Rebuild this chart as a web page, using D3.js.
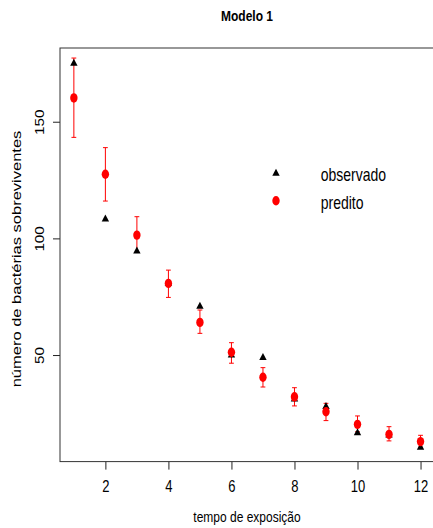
<!doctype html>
<html lang="pt">
  <head>
    <meta charset="utf-8">
    <title>Modelo 1</title>
    <style>
      body { margin: 0; background: #fff; }
      text { font-family: "Liberation Sans", Arial, sans-serif; fill: #000; }
    </style>
  </head>
  <body>
    <div id="chart"></div>

    <script src="https://cdn.jsdelivr.net/npm/d3@7"></script>
    <script>
      // data
      const tempo = [1, 2, 3, 4, 5, 6, 7, 8, 9, 10, 11, 12];
      const observado = [175.5, 108.7, 95.0, 81.2, 71.3, 50.4, 49.4, 31.6, 28.4, 17.1, 16.2, 10.9];
      const predito = [160.2, 127.5, 101.4, 80.7, 64.0, 51.2, 40.5, 32.1, 25.7, 20.3, 16.0, 12.9];
      const inferior = [143.3, 116.0, 94.0, 74.7, 59.3, 46.5, 36.3, 28.2, 21.9, 17.1, 13.2, 10.5];
      const superior = [177.3, 138.9, 109.3, 86.4, 69.3, 55.3, 44.6, 36.0, 29.3, 23.9, 19.3, 15.6];
      const xTicks = [2, 4, 6, 8, 10, 12];
      const yTicks = [50, 100, 150];
      const legenda = ["observado", "predito"];

      const width = 433, height = 528;
      const stretch = 1.27; // the picture is a bit taller than wide
      const plot = {left: 60, right: 434.4, top: 48, bottom: 461.6};

      const svg = d3.select("#chart").append("svg")
        .attr("width", width)
        .attr("height", height);

      const x = d3.scaleLinear()
        .domain([0.56, 12.44])
        .range([plot.left, plot.right]);

      const y = d3.scaleLinear()
        .domain([4.33, 181.6])
        .range([plot.bottom, plot.top]);

      const data = tempo.map((t, i) => ({
        t: t, obs: observado[i], pred: predito[i], lo: inferior[i], hi: superior[i]
      }));

      //x axis
      const xAxis = svg.append("g")
        .attr("transform", "translate(0," + plot.bottom + ")")
        .call(d3.axisBottom(x).tickValues(xTicks).tickSize(8).tickFormat(d3.format("d")));
      xAxis.select(".domain").remove();
      xAxis.selectAll("line").attr("stroke", "#222");
      xAxis.selectAll("text")
        .attr("y", 0).attr("dy", 0)
        .attr("transform", "translate(0,30) scale(1," + stretch + ")")
        .attr("font-size", 13)
        .attr("font-family", "Liberation Sans, Arial, sans-serif")
        .attr("fill", "#000");

      //y axis - labels turned like R does
      const yAxis = svg.append("g")
        .attr("transform", "translate(" + plot.left + ",0)")
        .call(d3.axisLeft(y).tickValues(yTicks).tickSize(7));
      yAxis.select(".domain").remove();
      yAxis.selectAll("line").attr("stroke", "#222");
      yAxis.selectAll("text")
        .attr("x", 0).attr("dy", 0)
        .attr("text-anchor", "middle")
        .attr("transform", "translate(-16,0) scale(1," + stretch + ") rotate(-90)")
        .attr("font-size", 12)
        .attr("font-family", "Liberation Sans, Arial, sans-serif")
        .attr("fill", "#000");

      //box round the plot
      svg.append("rect")
        .attr("x", plot.left)
        .attr("y", plot.top)
        .attr("width", plot.right - plot.left)
        .attr("height", plot.bottom - plot.top)
        .attr("fill", "none")
        .attr("stroke", "#333")
        .attr("stroke-width", 1);

      //error bars
      const bars = svg.append("g").attr("stroke", "#ff0000").attr("stroke-width", 1);
      bars.selectAll(".bar")
        .data(data)
        .enter().append("line")
        .attr("x1", d => x(d.t)).attr("x2", d => x(d.t))
        .attr("y1", d => y(d.lo)).attr("y2", d => y(d.hi));
      ["lo", "hi"].forEach(k => {
        bars.selectAll(".cap-" + k)
          .data(data)
          .enter().append("line")
          .attr("x1", d => x(d.t) - 2.4).attr("x2", d => x(d.t) + 2.4)
          .attr("y1", d => y(d[k])).attr("y2", d => y(d[k]));
      });

      const triangle = (cx, cy) =>
        "M" + (cx - 3.7) + "," + (cy + 3.5) + "L" + (cx + 3.7) + "," + (cy + 3.5) + "L" + cx + "," + (cy - 3.5) + "Z";

      //observed - black triangles
      svg.append("g").selectAll("path")
        .data(data)
        .enter().append("path")
        .attr("d", d => triangle(x(d.t), y(d.obs)))
        .attr("fill", "#000");

      //predicted - red dots
      svg.append("g").selectAll("ellipse")
        .data(data)
        .enter().append("ellipse")
        .attr("cx", d => x(d.t))
        .attr("cy", d => y(d.pred))
        .attr("rx", 3.7)
        .attr("ry", 4.7)
        .attr("fill", "#ff0000");

      //legend
      const leg = svg.append("g");
      leg.append("path").attr("d", triangle(276, 172.3)).attr("fill", "#000");
      leg.append("ellipse").attr("cx", 276).attr("cy", 200.7).attr("rx", 3.7).attr("ry", 4.7).attr("fill", "#ff0000");
      leg.selectAll("text")
        .data(legenda)
        .enter().append("text")
        .attr("transform", (d, i) => "translate(320.7," + (180.5 + i * 28) + ") scale(1," + stretch + ")")
        .attr("font-size", 14)
        .text(d => d);

      //titles
      svg.append("text")
        .attr("transform", "translate(247,20.7) scale(1," + stretch + ")")
        .attr("text-anchor", "middle")
        .attr("font-size", 12)
        .attr("font-weight", "bold")
        .text("Modelo 1");

      svg.append("text")
        .attr("transform", "translate(247,522) scale(1," + stretch + ")")
        .attr("text-anchor", "middle")
        .attr("font-size", 12)
        .text("tempo de exposição");

      svg.append("text")
        .attr("transform", "translate(21,259) scale(1," + stretch + ") rotate(-90)")
        .attr("text-anchor", "middle")
        .attr("font-size", 13)
        .text("número de bactérias sobreviventes");
    </script>
  </body>
</html>
